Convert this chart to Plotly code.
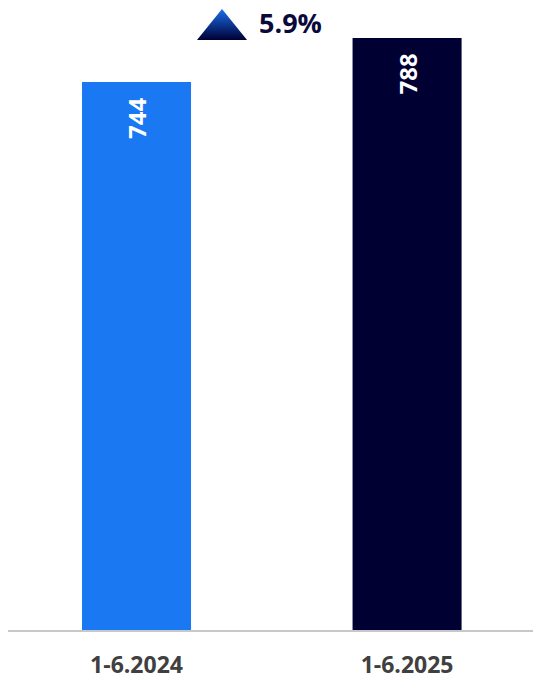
import plotly.graph_objects as go

categories = ["1-6.2024", "1-6.2025"]
values = [744, 788]
bar_colors = ["#1a78f2", "#000033"]

change_pct = (values[1] - values[0]) / values[0] * 100
change_label = f"{change_pct:.1f}%"

x_pos = list(range(len(categories)))

fig = go.Figure()
fig.add_trace(go.Bar(
    x=x_pos, y=values,
    marker=dict(color=bar_colors, line=dict(width=0)),
    hoverinfo="skip",
    width=0.403,
))

# value labels, rotated, inside top of each bar
for xi, v in zip(x_pos, values):
    fig.add_annotation(
        x=xi, y=v, xref="x", yref="y",
        text=f"<b>{v}</b>", showarrow=False, textangle=-90,
        xanchor="center", yanchor="top", yshift=-14,
        font=dict(size=24, color="white", family="Open Sans"),
    )

# gradient triangle indicator (between the bars, above)
tri_cx = 0.316
tri_hw = 0.0925
tri_top = 817
tri_bot = 786
fig.add_trace(go.Scatter(
    x=[tri_cx - tri_hw, tri_cx, tri_cx + tri_hw, tri_cx - tri_hw],
    y=[tri_bot, tri_top, tri_bot, tri_bot],
    mode="lines", line=dict(width=0),
    fill="toself",
    fillgradient=dict(type="vertical",
                      colorscale=[[0, "#000033"], [1, "#1a6ef0"]]),
    hoverinfo="skip", showlegend=False, cliponaxis=False,
))

fig.add_annotation(
    x=tri_cx + tri_hw + 0.035, y=(tri_top + tri_bot) / 2 + 2,
    xref="x", yref="y", xanchor="left", yanchor="middle",
    text=f"<b>{change_label}</b>", showarrow=False,
    font=dict(size=27, color="#0a0a3a", family="Open Sans"),
)

fig.update_layout(
    width=533, height=673,
    margin=dict(l=0, r=0, t=0, b=51, autoexpand=False),
    paper_bgcolor="white", plot_bgcolor="white",
    showlegend=False,
    xaxis=dict(
        range=[-0.475, 1.495], tickvals=x_pos, ticktext=categories,
        showgrid=False, zeroline=False,
        showline=True, linecolor="#c8c8cc", linewidth=2,
        ticks="", ticklabelstandoff=13,
        tickfont=dict(size=23, color="#404040", family="Open Sans", weight="bold"),
    ),
    yaxis=dict(range=[196, 818], visible=False, showgrid=False, zeroline=False),
)

fig.write_html("out.html")
